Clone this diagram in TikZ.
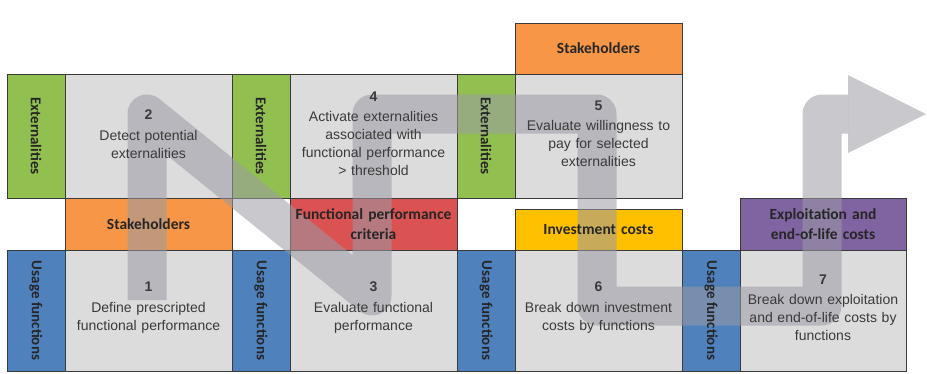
\documentclass[tikz,border=0pt]{standalone}
\usepackage{fontspec}
\usepackage{graphicx}
\setmainfont{Liberation Sans}
\newfontfamily\hdfont{Carlito}
\definecolor{bordc}{HTML}{3A3A3A}
\definecolor{boxgray}{HTML}{DCDCDC}
\definecolor{extgreen}{HTML}{92C050}
\definecolor{usblue}{HTML}{4F81BD}
\definecolor{stkorange}{HTML}{F79646}
\definecolor{fpcred}{HTML}{DA5252}
\definecolor{invyellow}{HTML}{FFC000}
\definecolor{eolpurple}{HTML}{8064A2}
\definecolor{bandc}{HTML}{9A9AA4}
\definecolor{txtgray}{HTML}{3A3A3A}
\begin{document}
\begin{tikzpicture}[x=1pt,y=-1pt,
  cell/.style={draw=bordc, line width=1pt, inner sep=0pt, outer sep=0pt, anchor=north west},
  stripcell/.style={cell, minimum width=58pt},
  gbox/.style={cell, fill=boxgray, minimum width=167pt},
  hdbox/.style={cell, minimum width=167pt, minimum height=52pt},
  steptext/.style={align=center, text width=164pt, text=txtgray, font=\fontsize{14}{18}\selectfont, inner sep=0pt},
  hdtext/.style={align=center, text width=162pt, text=black!85, font=\hdfont\bfseries\fontsize{15.5}{20}\selectfont, inner sep=0pt},
  striptext/.style={text=black!85, font=\hdfont\bfseries\fontsize{15}{18}\selectfont, inner sep=0pt},
  band/.style={draw=bandc, line width=39pt, line join=round, opacity=0.55}
]
\useasboundingbox (0,0) rectangle (927,373);
% top row
\node[stripcell, fill=extgreen, minimum height=124pt] (e1) at (7,74) {};
\node[gbox, minimum height=124pt] (b2) at (65,74) {};
\node[stripcell, fill=extgreen, minimum height=124pt] (e2) at (232,74) {};
\node[gbox, minimum height=124pt] (b4) at (290,74) {};
\node[stripcell, fill=extgreen, minimum height=124pt] (e3) at (457,74) {};
\node[gbox, minimum height=124pt] (b5) at (515,74) {};
\node[hdbox, fill=stkorange, minimum height=51pt] (s2) at (515,23) {};
% middle headers
\node[hdbox, fill=stkorange] (s1) at (65,198) {};
\node[hdbox, fill=fpcred] (fpc) at (290,198) {};
\node[hdbox, fill=invyellow, minimum height=41pt] (ic) at (515,209) {};
\node[hdbox, fill=eolpurple, minimum width=166pt] (eol) at (740,198) {};
% bottom row
\node[stripcell, fill=usblue, minimum height=121pt] (u1) at (7,250) {};
\node[gbox, minimum height=121pt] (b1) at (65,250) {};
\node[stripcell, fill=usblue, minimum height=121pt] (u2) at (232,250) {};
\node[gbox, minimum height=121pt] (b3) at (290,250) {};
\node[stripcell, fill=usblue, minimum height=121pt] (u3) at (457,250) {};
\node[gbox, minimum height=121pt] (b6) at (515,250) {};
\node[stripcell, fill=usblue, minimum height=121pt] (u4) at (682,250) {};
\node[gbox, minimum height=121pt, minimum width=166pt] (b7) at (740,250) {};
% big gray arrow
\coordinate (p0) at (147,300);
\coordinate (p1) at (147,114);
\coordinate (p2) at (372,296);
\coordinate (p3) at (372,114);
\coordinate (p4) at (597,114);
\coordinate (p5) at (597,306);
\coordinate (p6) at (822,306);
\coordinate (p7) at (822,114);
\coordinate (p8) at (848,114);
\draw[band] (p0) -- (p1) -- (p2) -- (p3) -- (p4) -- (p5) -- (p6) -- (p7) -- (p8);
\fill[bandc, opacity=0.55] (848,75) -- (926,114) -- (848,153) -- cycle;
% texts
\node[steptext] (t2) at ([yshift=2pt]b2.center) {\textbf{2}\\[3pt]Detect potential\\externalities};
\node[steptext] (t4) at ([yshift=2pt]b4.center) {\textbf{4}\\[2pt]Activate externalities\\associated with\\functional performance\\> threshold};
\node[steptext] (t5) at ([yshift=2pt]b5.center) {\textbf{5}\\[2pt]Evaluate willingness to\\pay for selected\\externalities};
\node[steptext] (t1) at ([yshift=3pt]b1.center) {\textbf{1}\\[3pt]Define prescripted\\functional performance};
\node[steptext] (t3) at ([yshift=3pt]b3.center) {\textbf{3}\\[3pt]Evaluate functional\\performance};
\node[steptext] (t6) at ([yshift=3pt]b6.center) {\textbf{6}\\[3pt]Break down investment\\costs by functions};
\node[steptext] (t7) at ([yshift=3pt]b7.center) {\textbf{7}\\[2pt]Break down exploitation\\and end-of-life costs by\\functions};
\node[hdtext] (ts2) at (s2.center) {Stakeholders};
\node[hdtext] (ts1) at (s1.center) {Stakeholders};
\node[hdtext] (tfpc) at (fpc.center) {Functional performance\\criteria};
\node[hdtext] (tic) at (ic.center) {Investment costs};
\node[hdtext] (teol) at (eol.center) {Exploitation and\\end-of-life costs};
\foreach \s in {e1,e2,e3}{\node[striptext] at (\s.center) {\rotatebox{-90}{Externalities}};}
\foreach \s in {u1,u2,u3,u4}{\node[striptext] at (\s.center) {\rotatebox{-90}{Usage functions}};}
\end{tikzpicture}
\end{document}
